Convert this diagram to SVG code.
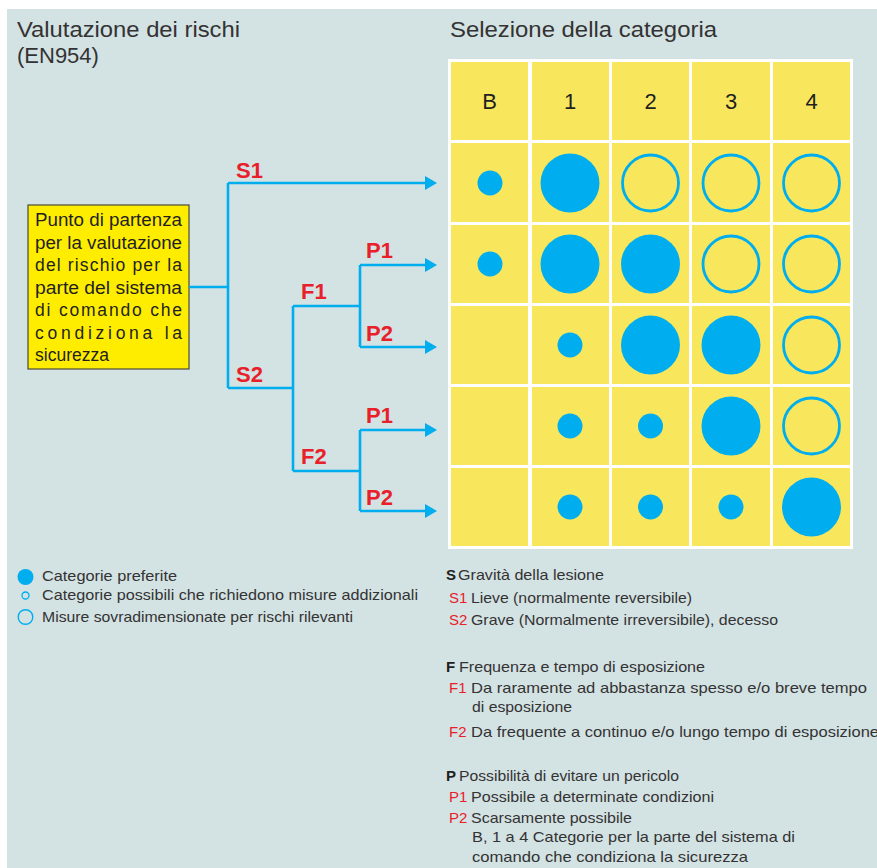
<svg xmlns="http://www.w3.org/2000/svg" width="877" height="868" viewBox="0 0 877 868">
<style>
  .title { font-family: "Liberation Sans", Arial, sans-serif; font-size: 22px; fill: #333333; }
  .hdr { font-family: "Liberation Sans", Arial, sans-serif; font-size: 22px; fill: #231f20; text-anchor: middle; }
  .cell { fill: #f8e75d; }
  .full { fill: #00aeef; }
  .ring { fill: none; stroke: #00aeef; stroke-width: 2.8; }
  .conn { fill: none; stroke: #00aeef; stroke-width: 2.6; }
  .lbl { font-family: "Liberation Sans", Arial, sans-serif; font-size: 22px; font-weight: bold; fill: #e8202a; }
  .box { fill: #ffed00; stroke: #4a4a3a; stroke-width: 1.2; }
  .boxt { font-family: "Liberation Sans", Arial, sans-serif; font-size: 17.5px; fill: #231f20; }
  .txt { font-family: "Liberation Sans", Arial, sans-serif; font-size: 15px; fill: #333333; }
  .red { fill: #e8202a; }
  .bold { fill: #231f20; font-weight: bold; }
</style>
<defs>
  <marker id="arr" markerUnits="userSpaceOnUse" markerWidth="13" markerHeight="14" refX="0" refY="7" orient="auto">
    <path d="M0,0 L12,7 L0,14 Z" fill="#00aeef"/>
  </marker>
</defs>

<rect x="0" y="0" width="877" height="868" fill="#ffffff"/>
<rect x="7" y="9" width="870" height="859" fill="#d3e2e3"/>

<g id="titles">
  <text class="title" x="17" y="37" textLength="223" lengthAdjust="spacingAndGlyphs">Valutazione dei rischi</text>
  <text class="title" x="17" y="63">(EN954)</text>
  <text class="title" x="450" y="37" textLength="267" lengthAdjust="spacingAndGlyphs">Selezione della categoria</text>
</g>

<g id="start-node">
  <rect class="box" x="28" y="205" width="161" height="164"/>
  <text class="boxt" x="35" y="226" textLength="147" lengthAdjust="spacingAndGlyphs">Punto di partenza</text>
  <text class="boxt" x="35" y="248.5" textLength="147" lengthAdjust="spacingAndGlyphs">per la valutazione</text>
  <text class="boxt" x="35" y="271" textLength="147" lengthAdjust="spacing">del rischio per la</text>
  <text class="boxt" x="35" y="293.5" textLength="147" lengthAdjust="spacingAndGlyphs">parte del sistema</text>
  <text class="boxt" x="35" y="316" textLength="147" lengthAdjust="spacing">di comando che</text>
  <text class="boxt" x="35" y="338.5" textLength="147" lengthAdjust="spacing">condiziona  la</text>
  <text class="boxt" x="35" y="361" textLength="74" lengthAdjust="spacingAndGlyphs">sicurezza</text>
</g>

<g id="connectors">
  <path class="conn" d="M189,287 H228"/>
  <path class="conn" d="M228,183 V388"/>
  <path class="conn" d="M228,183 H425" marker-end="url(#arr)"/>
  <path class="conn" d="M228,388 H293"/>
  <path class="conn" d="M293,306 V471"/>
  <path class="conn" d="M293,306 H360"/>
  <path class="conn" d="M293,471 H360"/>
  <path class="conn" d="M360,265 V347"/>
  <path class="conn" d="M360,265 H425" marker-end="url(#arr)"/>
  <path class="conn" d="M360,347 H425" marker-end="url(#arr)"/>
  <path class="conn" d="M360,430 V511"/>
  <path class="conn" d="M360,430 H425" marker-end="url(#arr)"/>
  <path class="conn" d="M360,511 H425" marker-end="url(#arr)"/>
</g>

<g id="labels">
  <text class="lbl" x="236" y="178">S1</text>
  <text class="lbl" x="236" y="382">S2</text>
  <text class="lbl" x="301" y="299">F1</text>
  <text class="lbl" x="301" y="464">F2</text>
  <text class="lbl" x="366" y="258">P1</text>
  <text class="lbl" x="366" y="341">P2</text>
  <text class="lbl" x="366" y="423">P1</text>
  <text class="lbl" x="366" y="505">P2</text>
</g>

<g id="grid">
  <rect x="448" y="59" width="405" height="490" fill="#ffffff"/>
  <g id="row-header">
    <rect class="cell" x="451" y="62" width="77" height="78"/>
    <rect class="cell" x="532" y="62" width="77" height="78"/>
    <rect class="cell" x="612" y="62" width="77" height="78"/>
    <rect class="cell" x="692" y="62" width="78" height="78"/>
    <rect class="cell" x="773" y="62" width="77" height="78"/>
    <text class="hdr" x="489.5" y="109">B</text>
    <text class="hdr" x="570" y="109">1</text>
    <text class="hdr" x="650.5" y="109">2</text>
    <text class="hdr" x="731" y="109">3</text>
    <text class="hdr" x="811.5" y="109">4</text>
  </g>
  <g id="row-s1">
    <rect class="cell" x="451" y="143" width="77" height="79"/>
    <rect class="cell" x="532" y="143" width="77" height="79"/>
    <rect class="cell" x="612" y="143" width="77" height="79"/>
    <rect class="cell" x="692" y="143" width="78" height="79"/>
    <rect class="cell" x="773" y="143" width="77" height="79"/>
    <circle class="full" cx="490" cy="183" r="12.5"/>
    <circle class="full" cx="570" cy="183" r="29.5"/>
    <circle class="ring" cx="650.5" cy="183" r="28"/>
    <circle class="ring" cx="731" cy="183" r="28"/>
    <circle class="ring" cx="811.5" cy="183" r="28"/>
  </g>
  <g id="row-s2-f1-p1">
    <rect class="cell" x="451" y="225" width="77" height="78"/>
    <rect class="cell" x="532" y="225" width="77" height="78"/>
    <rect class="cell" x="612" y="225" width="77" height="78"/>
    <rect class="cell" x="692" y="225" width="78" height="78"/>
    <rect class="cell" x="773" y="225" width="77" height="78"/>
    <circle class="full" cx="490" cy="264" r="12.5"/>
    <circle class="full" cx="570" cy="264" r="29.5"/>
    <circle class="full" cx="650.5" cy="264" r="29.5"/>
    <circle class="ring" cx="731" cy="264" r="28"/>
    <circle class="ring" cx="811.5" cy="264" r="28"/>
  </g>
  <g id="row-s2-f1-p2">
    <rect class="cell" x="451" y="306" width="77" height="78"/>
    <rect class="cell" x="532" y="306" width="77" height="78"/>
    <rect class="cell" x="612" y="306" width="77" height="78"/>
    <rect class="cell" x="692" y="306" width="78" height="78"/>
    <rect class="cell" x="773" y="306" width="77" height="78"/>
    <circle class="full" cx="570" cy="345" r="12.5"/>
    <circle class="full" cx="650.5" cy="345" r="29.5"/>
    <circle class="full" cx="731" cy="345" r="29.5"/>
    <circle class="ring" cx="811.5" cy="345" r="28"/>
  </g>
  <g id="row-s2-f2-p1">
    <rect class="cell" x="451" y="387" width="77" height="78"/>
    <rect class="cell" x="532" y="387" width="77" height="78"/>
    <rect class="cell" x="612" y="387" width="77" height="78"/>
    <rect class="cell" x="692" y="387" width="78" height="78"/>
    <rect class="cell" x="773" y="387" width="77" height="78"/>
    <circle class="full" cx="570" cy="426" r="12.5"/>
    <circle class="full" cx="650.5" cy="426" r="12.5"/>
    <circle class="full" cx="731" cy="426" r="29.5"/>
    <circle class="ring" cx="811.5" cy="426" r="28"/>
  </g>
  <g id="row-s2-f2-p2">
    <rect class="cell" x="451" y="468" width="77" height="78"/>
    <rect class="cell" x="532" y="468" width="77" height="78"/>
    <rect class="cell" x="612" y="468" width="77" height="78"/>
    <rect class="cell" x="692" y="468" width="78" height="78"/>
    <rect class="cell" x="773" y="468" width="77" height="78"/>
    <circle class="full" cx="570" cy="507" r="12.5"/>
    <circle class="full" cx="650.5" cy="507" r="12.5"/>
    <circle class="full" cx="731" cy="507" r="12.5"/>
    <circle class="full" cx="811.5" cy="507" r="29.5"/>
  </g>
</g>

<g id="legend">
  <circle class="full" cx="25.5" cy="577" r="8"/>
  <text class="txt" x="42" y="581" textLength="135" lengthAdjust="spacingAndGlyphs">Categorie preferite</text>
  <circle cx="25.5" cy="595.5" r="3.5" fill="none" stroke="#00aeef" stroke-width="1.3"/>
  <text class="txt" x="42" y="600" textLength="376" lengthAdjust="spacingAndGlyphs">Categorie possibili che richiedono misure addizionali</text>
  <circle cx="25.5" cy="617" r="7.3" fill="none" stroke="#00aeef" stroke-width="1.4"/>
  <text class="txt" x="42" y="621.5" textLength="311" lengthAdjust="spacingAndGlyphs">Misure sovradimensionate per rischi rilevanti</text>
</g>

<g id="key">
  <text class="txt bold" x="446" y="580">S</text>
  <text class="txt" x="458" y="580" textLength="146" lengthAdjust="spacingAndGlyphs">Gravità della lesione</text>
  <text class="txt red" x="449" y="603">S1</text>
  <text class="txt" x="471" y="603" textLength="221" lengthAdjust="spacingAndGlyphs">Lieve (normalmente reversibile)</text>
  <text class="txt red" x="449" y="624.5">S2</text>
  <text class="txt" x="471" y="624.5" textLength="307" lengthAdjust="spacingAndGlyphs">Grave (Normalmente irreversibile), decesso</text>

  <text class="txt bold" x="446" y="671.5">F</text>
  <text class="txt" x="459" y="671.5" textLength="246" lengthAdjust="spacingAndGlyphs">Frequenza e tempo di esposizione</text>
  <text class="txt red" x="449" y="693">F1</text>
  <text class="txt" x="471" y="693" textLength="396" lengthAdjust="spacingAndGlyphs">Da raramente ad abbastanza spesso e/o breve tempo</text>
  <text class="txt" x="472" y="711.5" textLength="100" lengthAdjust="spacingAndGlyphs">di esposizione</text>
  <text class="txt red" x="449" y="736.5">F2</text>
  <text class="txt" x="471" y="736.5" textLength="408" lengthAdjust="spacingAndGlyphs">Da frequente a continuo e/o lungo tempo di esposizione</text>

  <text class="txt bold" x="446" y="780.5">P</text>
  <text class="txt" x="459" y="780.5" textLength="220" lengthAdjust="spacingAndGlyphs">Possibilità di evitare un pericolo</text>
  <text class="txt red" x="449" y="801.5">P1</text>
  <text class="txt" x="471" y="801.5" textLength="243" lengthAdjust="spacingAndGlyphs">Possibile a determinate condizioni</text>
  <text class="txt red" x="449" y="823">P2</text>
  <text class="txt" x="471" y="823" textLength="161" lengthAdjust="spacingAndGlyphs">Scarsamente possibile</text>
  <text class="txt" x="472" y="841.5" textLength="323" lengthAdjust="spacingAndGlyphs">B, 1 a 4 Categorie per la parte del sistema di</text>
  <text class="txt" x="472" y="862" textLength="276" lengthAdjust="spacingAndGlyphs">comando che condiziona la sicurezza</text>
</g>
</svg>
